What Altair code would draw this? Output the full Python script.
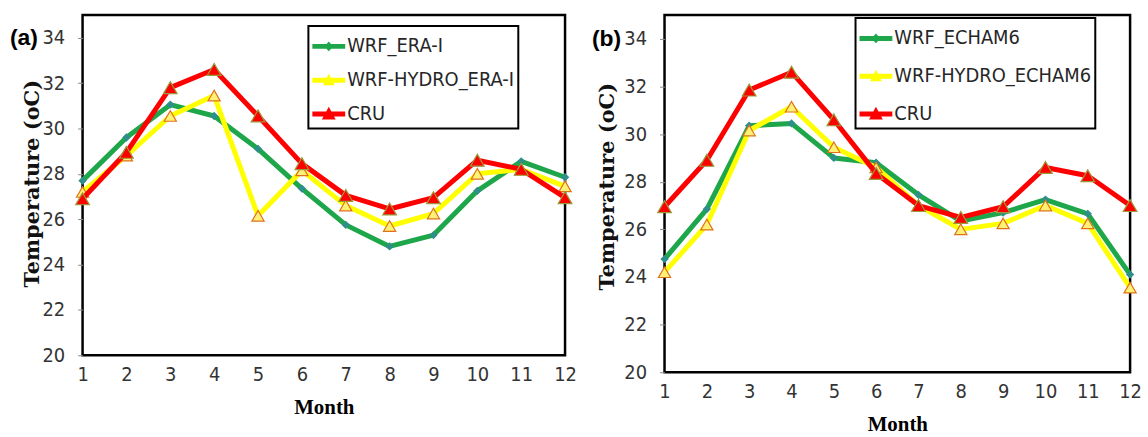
import altair as alt
import pandas as pd

months = list(range(1, 13))
y_ticks = [20, 22, 24, 26, 28, 30, 32, 34]

# Panel (a): ERA-Interim driven runs
a_names = ["WRF_ERA-I", "WRF-HYDRO_ERA-I", "CRU"]
a_wrf = [27.7, 29.6, 31.05, 30.55, 29.1, 27.35, 25.75, 24.8, 25.3, 27.25, 28.55, 27.85]
a_hydro = [27.2, 28.8, 30.55, 31.45, 26.15, 28.15, 26.6, 25.7, 26.25, 28.0, 28.2, 27.45]
a_cru = [26.9, 28.95, 31.8, 32.6, 30.55, 28.45, 27.05, 26.45, 26.95, 28.6, 28.2, 26.95]

# Panel (b): ECHAM6 driven runs
b_names = ["WRF_ECHAM6", "WRF-HYDRO_ECHAM6", "CRU"]
b_wrf = [24.75, 26.85, 30.35, 30.45, 29.0, 28.8, 27.45, 26.35, 26.7, 27.25, 26.65, 24.1]
b_hydro = [24.2, 26.2, 30.15, 31.15, 29.45, 28.6, 27.0, 26.0, 26.25, 27.0, 26.25, 23.55]
b_cru = [26.95, 28.9, 31.85, 32.6, 30.6, 28.35, 27.0, 26.5, 26.95, 28.6, 28.25, 27.0]

line_colors = ["#1ea64a", "#ffff00", "#ff0000"]
marker_shapes = ["diamond", "triangle-up", "triangle-up"]
marker_fills = ["#2f8f8a", "#fff176", "#ff0000"]
marker_strokes = ["#2f8f8a", "#e0701a", "#9a9a3a"]
marker_sizes = [45, 150, 190]
legend_paths = [
    "M-1,-0.15L1,-0.15L1,0.15L-1,0.15ZM0,-0.3L0.27,0L0,0.3L-0.27,0Z",
    "M-1,-0.15L1,-0.15L1,0.15L-1,0.15ZM-0.36,0.3L0,-0.4L0.36,0.3Z",
    "M-1,-0.15L1,-0.15L1,0.15L-1,0.15ZM-0.42,0.33L0,-0.45L0.42,0.33Z",
]

NARROW = "Liberation Sans Narrow, Arial Narrow, DejaVu Sans Condensed, sans-serif"
SERIF = "Liberation Serif, Times New Roman, serif"
WIDE_SERIF = "DejaVu Serif, serif"


def panel(names, series, w, h, label, ytitle, ytitle_x, ytitle_y,
          leg_x, leg_y, leg_pad, leg_row):
    rows = []
    for name, vals in zip(names, series):
        for m, v in zip(months, vals):
            rows.append({"month": m, "temp": v, "series": name})
    df = pd.DataFrame(rows)

    x = alt.X(
        "month:Q",
        scale=alt.Scale(domain=[1, 12], nice=False, zero=False),
        axis=alt.Axis(
            values=months, title="Month", grid=False, domain=False, ticks=False,
            labelFont=NARROW, labelFontSize=20, labelColor="#333333",
            labelPadding=9, labelFlush=False,
            titleFont=SERIF, titleFontWeight="bold", titleFontSize=21,
            titleColor="black", titleY=53, titleBaseline="middle",
        ),
    )
    y = alt.Y(
        "temp:Q",
        scale=alt.Scale(domain=[20, 35], nice=False, zero=False),
        axis=alt.Axis(
            values=y_ticks, title=ytitle, grid=False, domain=False,
            tickSize=5, tickColor="#8a8a8a", tickWidth=1,
            labelFont=NARROW, labelFontSize=20, labelColor="#333333",
            labelPadding=13, labelFlush=False,
            titleFont=WIDE_SERIF, titleFontWeight="bold", titleFontSize=21,
            titleColor="#111111", titleX=ytitle_x, titleY=ytitle_y,
            titleBaseline="middle",
        ),
    )

    layers = []
    for i, name in enumerate(names):
        sub = alt.Chart(df).transform_filter(alt.datum.series == name)
        layers.append(
            sub.mark_line(color=line_colors[i], strokeWidth=5,
                          strokeJoin="round", strokeCap="round").encode(x=x, y=y)
        )
        layers.append(
            sub.mark_point(shape=marker_shapes[i], filled=True, fill=marker_fills[i],
                           stroke=marker_strokes[i], strokeWidth=1.2,
                           size=marker_sizes[i], opacity=1).encode(x=x, y=y)
        )

    legend = alt.Legend(
        title=None, orient="none", legendX=leg_x, legendY=leg_y,
        direction="vertical", strokeColor="black", fillColor="white",
        padding=leg_pad, rowPadding=leg_row, symbolSize=1089,
        symbolStrokeWidth=0, symbolOpacity=1,
        labelFont=NARROW, labelFontSize=20, labelColor="#262626",
        labelOffset=2, labelLimit=400,
    )
    leg_layer = alt.Chart(df).mark_point(filled=True, opacity=0).encode(
        x=x, y=y,
        fill=alt.Fill("series:N", scale=alt.Scale(domain=names, range=line_colors),
                      legend=legend),
        shape=alt.Shape("series:N", scale=alt.Scale(domain=names, range=legend_paths),
                        legend=legend),
    )
    layers.append(leg_layer)

    lab = alt.Chart(pd.DataFrame({"label": [label]})).mark_text(
        align="left", baseline="middle", font="Liberation Sans",
        fontWeight="bold", fontSize=23, color="black",
    ).encode(x=alt.value(-73), y=alt.datum(34), text="label:N")
    layers.append(lab)

    return alt.layer(*layers).properties(width=w, height=h)


pa = panel(a_names, [a_wrf, a_hydro, a_cru], 485, 342, "(a)",
           "Temperature (oC)", -50, 169, 227, 11, 4, 7)
pb = panel(b_names, [b_wrf, b_hydro, b_cru], 468, 359, "(b)",
           "Temperature  (oC)", -57, 172, 192, 3, 4, 11)

chart = (
    alt.hconcat(pa, pb, spacing=100, bounds="flush")
    .resolve_scale(x="independent", y="independent", fill="independent", shape="independent")
    .resolve_legend(fill="independent", shape="independent")
    .properties(padding={"left": 8, "top": 12, "right": 5, "bottom": 0}, background="white")
    .configure_view(stroke="black", strokeWidth=2.5)
    .configure_legend(strokeWidth=2)
)

chart.save("out.html", embed_options={"renderer": "svg", "actions": False})
